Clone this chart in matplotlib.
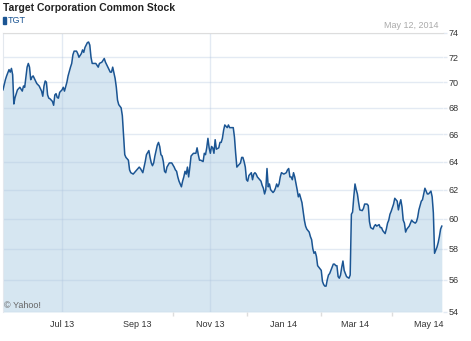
import matplotlib
matplotlib.use("Agg")
import matplotlib.pyplot as plt
import matplotlib.dates as mdates
import pandas as pd

# TGT daily closes
dates = [
    "2013-05-13", "2013-05-15", "2013-05-16", "2013-05-18", "2013-05-19", "2013-05-20", "2013-05-21",
    "2013-05-22", "2013-05-23", "2013-05-25", "2013-05-27", "2013-05-29", "2013-05-30", "2013-05-31",
    "2013-06-01", "2013-06-02", "2013-06-03", "2013-06-04", "2013-06-05", "2013-06-06", "2013-06-07",
    "2013-06-09", "2013-06-10", "2013-06-12", "2013-06-14", "2013-06-15", "2013-06-16", "2013-06-17",
    "2013-06-18", "2013-06-19", "2013-06-20", "2013-06-21", "2013-06-23", "2013-06-24", "2013-06-25",
    "2013-06-26", "2013-06-27", "2013-06-28", "2013-06-29", "2013-07-01", "2013-07-02", "2013-07-03",
    "2013-07-05", "2013-07-06", "2013-07-08", "2013-07-09", "2013-07-10", "2013-07-11", "2013-07-13",
    "2013-07-14", "2013-07-15", "2013-07-17", "2013-07-18", "2013-07-19", "2013-07-20", "2013-07-22",
    "2013-07-23", "2013-07-24", "2013-07-25", "2013-07-26", "2013-07-27", "2013-07-29", "2013-07-31",
    "2013-08-01", "2013-08-03", "2013-08-05", "2013-08-06", "2013-08-08", "2013-08-10", "2013-08-11",
    "2013-08-12", "2013-08-14", "2013-08-15", "2013-08-16", "2013-08-17", "2013-08-19", "2013-08-20",
    "2013-08-21", "2013-08-22", "2013-08-23", "2013-08-25", "2013-08-26", "2013-08-27", "2013-08-29",
    "2013-08-30", "2013-09-01", "2013-09-03", "2013-09-04", "2013-09-06", "2013-09-07", "2013-09-08",
    "2013-09-09", "2013-09-11", "2013-09-12", "2013-09-13", "2013-09-14", "2013-09-15", "2013-09-16",
    "2013-09-18", "2013-09-19", "2013-09-20", "2013-09-21", "2013-09-22", "2013-09-23", "2013-09-24",
    "2013-09-25", "2013-09-26", "2013-09-28", "2013-09-29", "2013-09-30", "2013-10-02", "2013-10-03",
    "2013-10-04", "2013-10-05", "2013-10-06", "2013-10-08", "2013-10-09", "2013-10-10", "2013-10-11",
    "2013-10-12", "2013-10-13", "2013-10-14", "2013-10-15", "2013-10-16", "2013-10-18", "2013-10-19",
    "2013-10-20", "2013-10-21", "2013-10-22", "2013-10-23", "2013-10-24", "2013-10-26", "2013-10-27",
    "2013-10-28", "2013-10-29", "2013-10-30", "2013-10-31", "2013-11-01", "2013-11-02", "2013-11-03",
    "2013-11-04", "2013-11-05", "2013-11-06", "2013-11-08", "2013-11-09", "2013-11-10", "2013-11-11",
    "2013-11-12", "2013-11-13", "2013-11-15", "2013-11-16", "2013-11-17", "2013-11-18", "2013-11-20",
    "2013-11-21", "2013-11-22", "2013-11-23", "2013-11-25", "2013-11-26", "2013-11-27", "2013-11-28",
    "2013-11-29", "2013-11-30", "2013-12-01", "2013-12-02", "2013-12-03", "2013-12-05", "2013-12-06",
    "2013-12-07", "2013-12-08", "2013-12-09", "2013-12-10", "2013-12-11", "2013-12-13", "2013-12-14",
    "2013-12-15", "2013-12-16", "2013-12-17", "2013-12-18", "2013-12-19", "2013-12-20", "2013-12-21",
    "2013-12-23", "2013-12-24", "2013-12-25", "2013-12-26", "2013-12-27", "2013-12-28", "2013-12-29",
    "2013-12-30", "2014-01-01", "2014-01-03", "2014-01-04", "2014-01-05", "2014-01-06", "2014-01-07",
    "2014-01-08", "2014-01-09", "2014-01-10", "2014-01-12", "2014-01-13", "2014-01-14", "2014-01-15",
    "2014-01-16", "2014-01-17", "2014-01-18", "2014-01-19", "2014-01-20", "2014-01-22", "2014-01-23",
    "2014-01-24", "2014-01-25", "2014-01-26", "2014-01-27", "2014-01-28", "2014-01-29", "2014-01-30",
    "2014-02-01", "2014-02-02", "2014-02-03", "2014-02-04", "2014-02-05", "2014-02-06", "2014-02-07",
    "2014-02-08", "2014-02-09", "2014-02-11", "2014-02-12", "2014-02-13", "2014-02-14", "2014-02-15",
    "2014-02-16", "2014-02-17", "2014-02-18", "2014-02-19", "2014-02-20", "2014-02-21", "2014-02-22",
    "2014-02-24", "2014-02-25", "2014-02-26", "2014-02-27", "2014-02-28", "2014-03-01", "2014-03-02",
    "2014-03-03", "2014-03-04", "2014-03-05", "2014-03-07", "2014-03-08", "2014-03-09", "2014-03-11",
    "2014-03-12", "2014-03-13", "2014-03-14", "2014-03-16", "2014-03-17", "2014-03-18", "2014-03-19",
    "2014-03-21", "2014-03-22", "2014-03-23", "2014-03-24", "2014-03-26", "2014-03-27", "2014-03-28",
    "2014-03-29", "2014-03-30", "2014-03-31", "2014-04-01", "2014-04-02", "2014-04-03", "2014-04-05",
    "2014-04-06", "2014-04-07", "2014-04-08", "2014-04-09", "2014-04-10", "2014-04-11", "2014-04-12",
    "2014-04-13", "2014-04-15", "2014-04-16", "2014-04-17", "2014-04-18", "2014-04-20", "2014-04-21",
    "2014-04-22", "2014-04-23", "2014-04-25", "2014-04-26", "2014-04-27", "2014-04-28", "2014-04-29",
    "2014-04-30", "2014-05-01", "2014-05-02", "2014-05-03", "2014-05-04", "2014-05-05", "2014-05-06",
    "2014-05-07", "2014-05-08", "2014-05-09", "2014-05-10", "2014-05-11", "2014-05-12",
]
prices = [
    69.4, 70.2, 70.5, 71.0, 70.8, 71.1, 70.6,
    68.3, 68.8, 69.4, 69.6, 69.3, 69.7, 69.6,
    70.4, 71.2, 71.5, 71.2, 70.2, 70.4, 70.5,
    70.1, 69.9, 69.7, 69.3, 68.9, 69.7, 70.1,
    70.0, 69.0, 68.75, 68.7, 68.5, 68.2, 69.0,
    69.1, 68.8, 68.75, 69.2, 69.4, 69.6, 69.3,
    70.0, 70.5, 71.2, 71.5, 72.2, 72.5, 72.5,
    72.3, 72.0, 72.3, 72.6, 72.4, 72.8, 73.2,
    73.25, 73.0, 72.0, 71.5, 71.5, 71.5, 71.2,
    71.5, 71.6, 71.9, 71.6, 71.2, 70.8, 70.8,
    71.2, 70.3, 69.6, 68.6, 68.25, 68.0, 67.4,
    65.9, 64.5, 64.3, 64.1, 63.4, 63.2, 63.1,
    63.2, 63.4, 63.6, 63.5, 63.2, 63.6, 64.0,
    64.5, 64.8, 64.3, 63.9, 63.7, 63.9, 64.4,
    65.2, 65.4, 65.1, 64.5, 64.4, 64.0, 63.3,
    63.2, 63.6, 63.9, 63.9, 63.9, 63.6, 63.4,
    63.3, 62.9, 62.6, 62.2, 62.6, 62.9, 63.3,
    63.1, 63.6, 62.9, 63.6, 64.4, 64.6, 64.6,
    64.6, 65.0, 64.5, 64.1, 64.1, 64.0, 64.6,
    64.5, 65.0, 65.7, 65.0, 64.6, 65.1, 65.0,
    64.6, 65.6, 64.9, 65.0, 65.4, 65.4, 65.7,
    66.3, 66.7, 66.5, 66.7, 66.5, 66.5, 66.5,
    65.8, 64.6, 63.6, 63.8, 63.9, 64.3, 64.3,
    64.0, 63.6, 62.7, 62.6, 63.0, 63.2, 62.7,
    63.1, 63.2, 63.1, 62.9, 62.8, 62.6, 62.3,
    62.1, 61.7, 62.0, 63.5, 62.2, 62.4, 62.0,
    61.8, 61.9, 62.1, 62.4, 62.2, 62.4, 62.9,
    63.2, 63.1, 63.2, 63.4, 63.5, 62.9, 62.9,
    62.7, 63.2, 62.9, 62.0, 61.5, 61.7, 61.4,
    61.1, 60.5, 59.9, 59.5, 59.3, 59.1, 58.8,
    58.6, 58.0, 57.7, 57.8, 57.5, 56.9, 56.8,
    56.6, 55.9, 55.7, 55.6, 55.6, 56.0, 56.3,
    56.4, 56.6, 57.0, 57.0, 56.9, 56.9, 56.2,
    56.1, 56.3, 56.8, 57.2, 56.6, 56.4, 56.2,
    56.1, 56.3, 60.3, 60.45, 61.5, 62.4, 62.0,
    61.7, 61.1, 60.6, 60.55, 60.7, 61.0, 61.0,
    60.9, 59.8, 59.4, 59.3, 59.5, 59.6, 59.5,
    59.6, 59.4, 59.4, 59.2, 59.0, 59.3, 59.7,
    59.9, 60.3, 60.5, 60.76, 61.0, 61.4, 61.2,
    60.6, 61.0, 61.3, 60.8, 59.9, 59.7, 59.1,
    59.3, 59.5, 59.7, 59.9, 59.8, 59.7, 59.8,
    60.1, 60.6, 61.2, 61.3, 61.7, 62.1, 61.9,
    61.7, 61.7, 61.8, 61.9, 61.5, 60.4, 57.7,
    57.9, 58.1, 58.4, 58.8, 59.3, 59.5,
]
y_ticks = [74, 72, 70, 68, 66, 64, 62, 60, 58, 56, 54]
x_label_months = ["2013-07-01", "2013-09-01", "2013-11-01", "2014-01-01", "2014-03-01", "2014-05-01"]
x_mark_months = ["2013-07-01", "2013-10-01", "2013-11-01", "2013-12-01", "2014-02-01", "2014-04-01"]
x_grid_months = ["2013-07-01", "2013-11-01"]

LINE = "#1b5593"
FILL = "#d6e6f1"
GRID = "#b0c4de"
FONT = ["Liberation Sans Narrow", "Liberation Sans", "DejaVu Sans"]
plt.rcParams["font.family"] = FONT

x = pd.to_datetime(dates)
y_bottom, y_top = 54, 74

fig = plt.figure(figsize=(4.71, 3.41), dpi=100)
ax = fig.add_axes([3 / 471, 29 / 341, 440 / 471, 279 / 341])

ax.fill_between(x, prices, y_bottom, color=FILL, linewidth=0, zorder=1)
ax.plot(x, prices, color=LINE, linewidth=1.1, zorder=3)

ax.set_yscale("log")
ax.set_ylim(y_bottom, y_top)
ax.set_xlim(pd.Timestamp("2013-05-13"), pd.Timestamp("2014-05-13"))

ax.yaxis.tick_right()
ax.set_yticks(y_ticks)
ax.set_yticklabels([str(v) for v in y_ticks])
ax.yaxis.set_minor_locator(matplotlib.ticker.NullLocator())
ax.yaxis.set_minor_formatter(matplotlib.ticker.NullFormatter())
ax.tick_params(axis="y", which="major", length=3, width=1, color="#e3eaf3",
               pad=1, labelsize=6.5, labelcolor="#333333")
ax.grid(axis="y", color=GRID, alpha=0.35, linewidth=1, zorder=2)

for m in x_grid_months:
    ax.axvline(pd.Timestamp(m), color=GRID, alpha=0.35, linewidth=1, zorder=2)

ax.set_xticks(pd.to_datetime(x_label_months))
ax.xaxis.set_major_formatter(mdates.DateFormatter("%b %y"))
ax.set_xticks(pd.to_datetime(x_mark_months), minor=True)
ax.tick_params(axis="x", which="major", length=0, pad=6, labelsize=6.5, labelcolor="#333333")
ax.tick_params(axis="x", which="minor", length=3, width=1, color="#dddddd")

for side in ["right", "bottom"]:
    ax.spines[side].set_visible(False)
ax.spines["top"].set_color("#dddddd")
ax.spines["left"].set_color("#e3e8ee")
ax.spines["top"].set_zorder(4)

fig.text(3 / 471, 1 - 8 / 341, "Target Corporation Common Stock", fontsize=7.5,
         fontweight="bold", color="#222222", va="center", ha="left")
fig.patches.append(matplotlib.patches.Rectangle((3 / 471, 1 - 24 / 341), 3 / 471, 7 / 341,
                                                transform=fig.transFigure, color=LINE))
fig.text(8 / 471, 1 - 20.5 / 341, "TGT", fontsize=6.5, color=LINE, va="center", ha="left")
fig.text(438 / 471, 1 - 25 / 341, "May 12, 2014", fontsize=6.5, color="#aaaaaa",
         va="center", ha="right")
ax.text(4 / 471, 1 - 305 / 341, "© Yahoo!", transform=fig.transFigure, fontsize=6.5,
        color="#666666", va="center", ha="left", zorder=5)

fig.savefig("out.png", dpi=100)
